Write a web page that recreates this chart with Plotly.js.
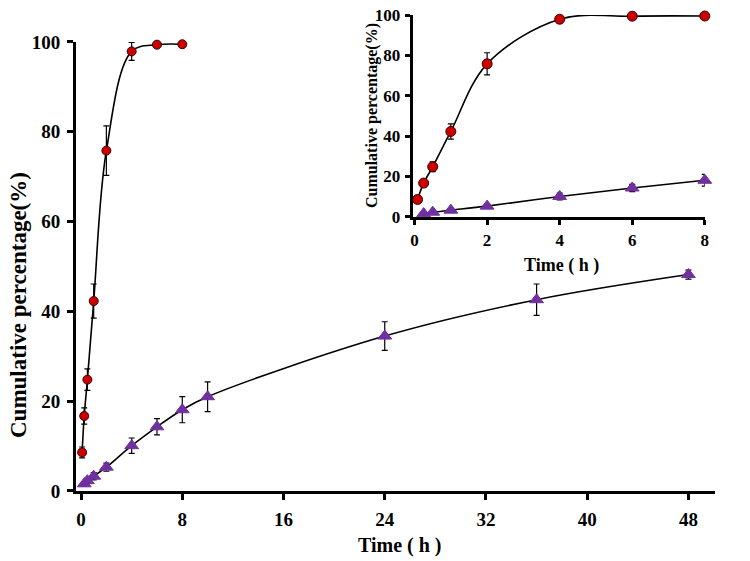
<!DOCTYPE html>
<html><head><meta charset="utf-8">
<script src="https://cdn.plot.ly/plotly-3.0.1.min.js"></script>
<style>html,body{margin:0;padding:0;background:#fff}#chart{width:750px;height:561px}</style>
</head><body><div id="chart"></div>
<script>
const redTime = [0.083, 0.25, 0.5, 1, 2, 4, 6, 8];
const redValue = [8.6, 16.7, 24.8, 42.3, 75.8, 97.9, 99.4, 99.5];
const redError = [1.2, 1.8, 2.4, 3.8, 5.5, 2.0, 0.6, 0.6];
const purpleTime = [0.25, 0.5, 1, 2, 4, 6, 8, 10, 24, 36, 48];
const purpleValue = [1.6, 2.3, 3.3, 5.3, 10.1, 14.3, 18.1, 21.0, 34.5, 42.6, 48.2];
const purpleError = [0.5, 0.6, 0.8, 0.9, 1.7, 1.8, 2.9, 3.3, 3.2, 3.5, 1.0];
const mainXTicks = [0, 8, 16, 24, 32, 40, 48];
const mainYTicks = [0, 20, 40, 60, 80, 100];
const insetXTicks = [0, 2, 4, 6, 8];
const insetYTicks = [0, 20, 40, 60, 80, 100];

const RED = '#cc0000', PURPLE = '#7030a0';
const FONT = 'Liberation Serif';

function series(x, y, e, color, symbol, size, xa, ya) {
  return {
    x: x, y: y, xaxis: xa, yaxis: ya, type: 'scatter', mode: 'lines+markers',
    line: {color: '#000', width: 1.6, shape: 'spline', smoothing: 1},
    marker: {color: color, symbol: symbol, size: size, line: {color: symbol === 'circle' ? '#3a0000' : color, width: 1}},
    error_y: {type: 'data', array: e, visible: true, color: '#000', thickness: 1.2, width: 3},
    showlegend: false, cliponaxis: false
  };
}

const data = [
  series(redTime, redValue, redError, RED, 'circle', 9, 'x', 'y'),
  series(purpleTime, purpleValue, purpleError, PURPLE, 'triangle-up', 12, 'x', 'y'),
  series(redTime, redValue, redError, RED, 'circle', 10, 'x2', 'y2'),
  series(purpleTime.filter(t => t <= 8), purpleValue.slice(0, 7), purpleError.slice(0, 7), PURPLE, 'triangle-up', 12, 'x2', 'y2')
];

const axisCommon = {
  showgrid: false, zeroline: false, showline: true, linecolor: '#000', linewidth: 3,
  ticks: 'outside', tickcolor: '#000', tickwidth: 3, ticklen: 6, ticklabelstandoff: 3,
  tickfont: {family: FONT, size: 19, color: '#000', weight: 'bold'}
};

// plot area: left 76, right 715, top 10, bottom 491
const px = v => (v - 76) / 639;
const py = v => (491 - v) / 481;

const layout = {
  width: 750, height: 561,
  margin: {l: 76, r: 35, t: 10, b: 70},
  paper_bgcolor: '#fff', plot_bgcolor: 'rgba(0,0,0,0)',
  font: {family: FONT, color: '#000'},
  xaxis: Object.assign({}, axisCommon, {domain: [0, 1], range: [-0.4, 50.1], tickvals: mainXTicks, anchor: 'y'}),
  yaxis: Object.assign({}, axisCommon, {domain: [0, 0.9335], range: [0, 100], tickvals: mainYTicks, anchor: 'x'}),
  xaxis2: Object.assign({}, axisCommon, {domain: [0.527, 0.984], range: [-0.05, 8], tickvals: insetXTicks, anchor: 'y2',
    ticklen: 5, ticklabelstandoff: 1, tickfont: {family: FONT, size: 17, color: '#000', weight: 'bold'}}),
  yaxis2: Object.assign({}, axisCommon, {domain: [0.570, 0.9896], range: [0, 100], tickvals: insetYTicks, anchor: 'x2',
    ticklen: 5, ticklabelstandoff: 1, tickfont: {family: FONT, size: 17, color: '#000', weight: 'bold'}}),
  annotations: [
    {text: 'Time ( h )', xref: 'paper', yref: 'paper', x: px(400), y: py(545), xanchor: 'center', yanchor: 'middle',
     showarrow: false, font: {family: FONT, size: 20, weight: 'bold'}},
    {text: 'Cumulative percentage(%)', xref: 'paper', yref: 'paper', x: px(18), y: py(305), xanchor: 'center', yanchor: 'middle',
     textangle: -90, showarrow: false, font: {family: FONT, size: 23, weight: 'bold'}},
    {text: 'Time ( h )', xref: 'paper', yref: 'paper', x: px(561), y: py(265), xanchor: 'center', yanchor: 'middle',
     showarrow: false, font: {family: FONT, size: 18, weight: 'bold'}},
    {text: 'Cumulative percentage(%)', xref: 'paper', yref: 'paper', x: px(372), y: py(116), xanchor: 'center', yanchor: 'middle',
     textangle: -90, showarrow: false, font: {family: FONT, size: 16, weight: 'bold'}}
  ]
};

Plotly.newPlot('chart', data, layout, {staticPlot: true, displayModeBar: false});
</script>
</body></html>
